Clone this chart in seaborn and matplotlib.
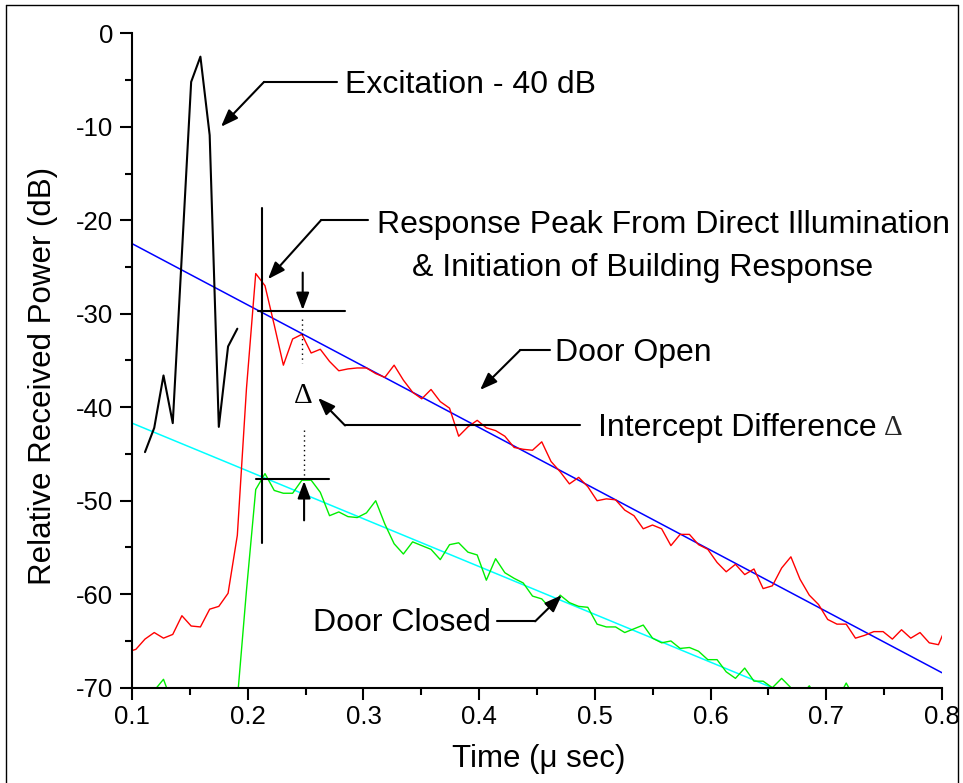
import matplotlib
matplotlib.use("Agg")
import matplotlib.pyplot as plt
from matplotlib.ticker import MultipleLocator
from matplotlib.lines import Line2D
import seaborn as sns

# sample times (micro seconds), one sample every ~8 ns
TIME_US = [
    0.0953, 0.1033, 0.1112, 0.1192, 0.1272, 0.1352, 0.1431, 0.1511, 0.1591, 0.1671,
    0.1750, 0.1830, 0.1910, 0.1989, 0.2069, 0.2149, 0.2229, 0.2308, 0.2388, 0.2468,
    0.2548, 0.2627, 0.2707, 0.2787, 0.2866, 0.2946, 0.3026, 0.3106, 0.3185, 0.3265,
    0.3345, 0.3425, 0.3504, 0.3584, 0.3664, 0.3744, 0.3823, 0.3903, 0.3983, 0.4062,
    0.4142, 0.4222, 0.4302, 0.4381, 0.4461, 0.4541, 0.4621, 0.4700, 0.4780, 0.4860,
    0.4939, 0.5019, 0.5099, 0.5179, 0.5258, 0.5338, 0.5418, 0.5498, 0.5577, 0.5657,
    0.5737, 0.5817, 0.5896, 0.5976, 0.6056, 0.6135, 0.6215, 0.6295, 0.6375, 0.6454,
    0.6534, 0.6614, 0.6694, 0.6773, 0.6853, 0.6933, 0.7012, 0.7092, 0.7172, 0.7252,
    0.7331, 0.7411, 0.7491, 0.7571, 0.7650, 0.7730, 0.7810, 0.7890, 0.7969, 0.8049,
]

# door open response (red)
OPEN_DB = [
    -66.2, -65.9, -64.8, -64.1, -64.7, -64.3, -62.3, -63.4, -63.5, -61.6,
    -61.3, -59.9, -53.7, -38.0, -25.7, -27.0, -31.2, -35.5, -32.7, -32.2,
    -34.2, -33.8, -35.1, -36.1, -35.9, -35.8, -35.8, -36.4, -36.8, -35.5,
    -37.1, -38.4, -39.1, -38.1, -39.4, -40.1, -43.1, -42.1, -41.4, -42.2,
    -42.5, -43.1, -44.3, -44.5, -44.6, -43.7, -45.8, -46.9, -48.2, -47.5,
    -48.5, -50.0, -49.8, -49.9, -51.0, -51.6, -53.0, -52.6, -53.0, -54.8,
    -53.6, -53.6, -54.7, -55.2, -56.6, -57.6, -56.8, -57.9, -57.3, -59.4,
    -59.1, -57.2, -56.0, -58.4, -60.1, -61.1, -62.7, -63.2, -63.2, -64.7,
    -64.4, -64.0, -64.0, -64.8, -63.8, -64.7, -64.1, -65.2, -65.4, -63.1,
]

# door closed response (green)
CLOSED_DB = [
    -72.0, -72.0, -71.5, -70.3, -69.1, -71.8, -73.0, -72.5, -73.5, -72.8,
    -73.2, -72.5, -71.3, -59.6, -48.8, -47.1, -48.9, -49.2, -49.2, -47.8,
    -47.8, -49.1, -51.6, -51.2, -51.7, -51.8, -51.3, -50.0, -52.5, -54.6,
    -55.7, -54.4, -54.8, -55.2, -56.3, -54.7, -54.5, -55.5, -55.8, -58.5,
    -56.2, -57.7, -58.3, -58.8, -60.2, -60.5, -61.6, -60.1, -60.9, -61.3,
    -61.4, -63.2, -63.5, -63.5, -64.1, -63.7, -63.3, -64.7, -65.2, -65.0,
    -65.8, -65.7, -66.1, -67.0, -67.0, -68.3, -69.0, -67.9, -69.3, -69.3,
    -70.0, -69.0, -70.0, -71.0, -69.8, -71.2, -71.8, -71.4, -69.5, -71.3,
    -72.0, -72.5, -71.8, -72.3, -72.9, -72.1, -72.6, -73.0, -72.4, -72.8,
]

# excitation pulse, attenuated by 40 dB (black), samples k = 0..10
EXCITATION_TIME_US = TIME_US[2:13]
EXCITATION_DB = [-44.8, -42.2, -36.6, -41.7, -23.6, -5.2, -2.5, -10.9, -42.1, -33.5, -31.6]

# straight-line fits to the decay
FIT_TIME_US = [0.1, 0.8]
OPEN_FIT_DB = [-22.5, -68.4]
CLOSED_FIT_DB = [-41.7, -77.5]

X_TICKS = [0.1, 0.2, 0.3, 0.4, 0.5, 0.6, 0.7, 0.8]
Y_TICKS = [0, -10, -20, -30, -40, -50, -60, -70]

sns.set_theme(style="ticks")
plt.rcParams["font.family"] = ["Liberation Sans", "DejaVu Sans"]
plt.rcParams["axes.unicode_minus"] = False

fig = plt.figure(figsize=(9.63, 7.83), dpi=100)
ax = fig.add_axes([0.1371, 0.1217, 0.8411, 0.8358])

sns.lineplot(x=FIT_TIME_US, y=OPEN_FIT_DB, ax=ax, color="#0000ff", lw=1.1, estimator=None)
sns.lineplot(x=FIT_TIME_US, y=CLOSED_FIT_DB, ax=ax, color="#00ffff", lw=1.1, estimator=None)
sns.lineplot(x=TIME_US, y=OPEN_DB, ax=ax, color="#ff0000", lw=1.0, estimator=None)
sns.lineplot(x=TIME_US, y=CLOSED_DB, ax=ax, color="#00ee00", lw=1.0, estimator=None)
sns.lineplot(x=EXCITATION_TIME_US, y=EXCITATION_DB, ax=ax, color="black", lw=1.5, estimator=None)

ax.set_xlim(0.1, 0.8)
ax.set_ylim(-70, 0)
ax.set_xticks(X_TICKS)
ax.set_xticklabels([f"{v:g}" for v in X_TICKS])
ax.set_yticks(Y_TICKS)
ax.set_yticklabels([f"{v:g}" for v in Y_TICKS])
ax.xaxis.set_minor_locator(MultipleLocator(0.05))
ax.yaxis.set_minor_locator(MultipleLocator(5))
ax.tick_params(which="major", direction="out", length=8.5, width=1.5, color="black",
               labelsize=18.5, labelcolor="black")
ax.tick_params(axis="y", which="major", pad=5)
ax.tick_params(axis="x", which="major", pad=4)
ax.tick_params(which="minor", direction="out", length=5, width=1.5, color="black")
ax.spines[["top", "right"]].set_visible(False)
for side in ["left", "bottom"]:
    ax.spines[side].set_linewidth(1.5)
    ax.spines[side].set_color("black")
ax.set_facecolor("white")

ax.set_xlabel("Time (\u03bc sec)", fontsize=22.5, color="black")
ax.set_ylabel("Relative Received Power (dB)", fontsize=22.5, color="black")
ax.xaxis.set_label_coords(0.5025, -0.086)
ax.yaxis.set_label_coords(-0.092, 0.476)

ann = dict(fontsize=23, color="black", ha="left", va="center")
head = dict(arrowstyle="-|>,head_length=0.8,head_width=0.3", color="black", lw=1.5,
            shrinkA=0, shrinkB=0, mutation_scale=13)


def leader(text_xy, end_x, elbow, tip, label, **kw):
    ax.plot([end_x, elbow[0]], [elbow[1], elbow[1]], color="black", lw=1.5)
    ax.annotate("", xy=tip, xytext=elbow, arrowprops=head)
    return ax.text(text_xy[0], text_xy[1], label, **{**ann, **kw})


leader((0.2841, -5.5), 0.2769, (0.2141, -5.2), (0.1769, -10.0), "Excitation - 40 dB")
leader((0.3118, -20.5), 0.304, (0.2633, -20.0), (0.2175, -26.3),
       "Response Peak From Direct Illumination")
ax.text(0.342, -25.1, "& Initiation of Building Response", **ann)
leader((0.4656, -34.2), 0.4613, (0.4354, -33.9), (0.4008, -38.15), "Door Open")
t_int = leader((0.5028, -42.2), 0.4872, (0.2841, -41.95), (0.2608, -39.0), "Intercept Difference")
ax.annotate("\u0394", xy=(1, 0.5), xycoords=t_int, xytext=(5, 0), textcoords="offset points",
            fontsize=21, family=["Liberation Serif", "DejaVu Serif"], va="center", ha="left")

# door closed: text on the left, leader going right
ax.plot([0.4152, 0.4484], [-62.9, -62.9], color="black", lw=1.5)
ax.annotate("", xy=(0.4714, -60.1), xytext=(0.4484, -62.9), arrowprops=head)
ax.text(0.2562, -63.1, "Door Closed", **ann)

# intercept construction
ax.plot([0.2124, 0.2124], [-18.7, -54.5], color="black", lw=1.5)
ax.plot([0.2086, 0.2841], [-29.7, -29.7], color="black", lw=1.5)
ax.plot([0.2072, 0.2703], [-47.7, -47.7], color="black", lw=1.5)
ax.plot([0.247, 0.247], [-30.6, -35.3], color="black", lw=1.0, ls=(0, (1, 2.5)))
ax.plot([0.249, 0.249], [-42.4, -47.4], color="black", lw=1.0, ls=(0, (1, 2.5)))
ax.annotate("", xy=(0.2475, -29.6), xytext=(0.2475, -25.6), arrowprops=head)
ax.annotate("", xy=(0.2487, -47.9), xytext=(0.2487, -52.1), arrowprops=head)
ax.text(0.248, -38.8, "\u0394", fontsize=21, family=["Liberation Serif", "DejaVu Serif"],
        ha="center", va="center", color="black")

# thin frame round the figure (bottom edge falls outside the picture)
for xs, ys in [((0.006, 0.006), (0.0, 0.994)), ((0.006, 0.995), (0.994, 0.994)),
               ((0.995, 0.995), (0.0, 0.994))]:
    fig.add_artist(Line2D(xs, ys, transform=fig.transFigure, color="black", lw=1.0))

fig.savefig("out.png", dpi=100, facecolor="white")
